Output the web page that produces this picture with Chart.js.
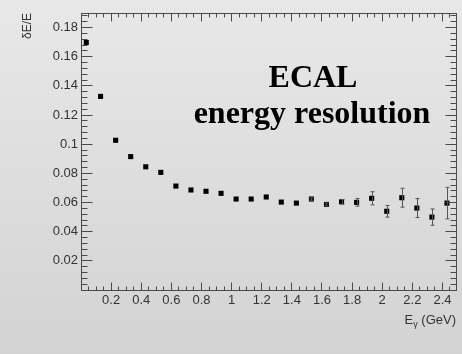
<!DOCTYPE html>
<html>
<head>
<meta charset="utf-8">
<script src="https://cdn.jsdelivr.net/npm/chart.js@4.4.0/dist/chart.umd.min.js"></script>
<style>
  html, body { margin: 0; padding: 0; }
  body { width: 462px; height: 354px; background: linear-gradient(#e8e8e8, #d3d3d3); }
  canvas { display: block; }
</style>
</head>
<body>
<canvas id="res-chart" width="462" height="354"></canvas>
<script>
// Photon energy bins (GeV) and ECAL relative resolution dE/E
const energies = [0.035, 0.13, 0.23, 0.33, 0.43, 0.53, 0.63, 0.73, 0.83, 0.93,
                  1.03, 1.13, 1.23, 1.33, 1.43, 1.53, 1.63, 1.73, 1.83, 1.93,
                  2.03, 2.13, 2.23, 2.33, 2.43];
const resolution = [0.1698, 0.1328, 0.1027, 0.0915, 0.0845, 0.0807, 0.0713, 0.0686, 0.0677, 0.0663,
                    0.0624, 0.0624, 0.0638, 0.0603, 0.0596, 0.0624, 0.0587, 0.0605, 0.0601, 0.0629,
                    0.0540, 0.0633, 0.0562, 0.0500, 0.0596];
const resolutionErr = [0, 0, 0, 0, 0, 0, 0, 0, 0, 0,
                       0, 0, 0, 0, 0, 0.0008, 0.001, 0.0016, 0.0026, 0.0045,
                       0.0040, 0.0065, 0.0065, 0.0056, 0.0108];
const xTickValues = [0.2, 0.4, 0.6, 0.8, 1, 1.2, 1.4, 1.6, 1.8, 2, 2.2, 2.4];
const yTickValues = [0.02, 0.04, 0.06, 0.08, 0.1, 0.12, 0.14, 0.16, 0.18];

const axisColor = '#4a4a4a';
const labelColor = '#333';

// error bars with small end caps
const errorBars = {
    id: 'errorBars',
    afterDatasetsDraw(chart) {
        const { ctx, scales: { x, y } } = chart;
        ctx.save();
        ctx.strokeStyle = '#555';
        ctx.lineWidth = 1;
        energies.forEach((e, i) => {
            const err = resolutionErr[i];
            if (!err) return;
            const px = Math.round(x.getPixelForValue(e)) + 0.5;
            const top = y.getPixelForValue(resolution[i] + err);
            const bot = y.getPixelForValue(resolution[i] - err);
            ctx.beginPath();
            ctx.moveTo(px, top);
            ctx.lineTo(px, bot);
            ctx.moveTo(px - 2, top);
            ctx.lineTo(px + 2, top);
            ctx.moveTo(px - 2, bot);
            ctx.lineTo(px + 2, bot);
            ctx.stroke();
        });
        ctx.restore();
    }
};

// frame with inward major/minor ticks on all four sides, titles and the label
const frame = {
    id: 'frame',
    afterDraw(chart) {
        const { ctx, chartArea: a, scales: { x, y } } = chart;
        const crisp = v => Math.floor(v) + 0.5;
        const L = crisp(a.left), R = crisp(a.right), T = crisp(a.top), B = crisp(a.bottom);
        ctx.save();
        ctx.strokeStyle = axisColor;
        ctx.lineWidth = 1;
        ctx.strokeRect(L, T, R - L, B - T);

        ctx.beginPath();
        for (let k = 1; k * 0.05 < x.max; k++) {
            const px = crisp(x.getPixelForValue(k * 0.05));
            const len = k % 4 === 0 ? 8 : 4;
            ctx.moveTo(px, B); ctx.lineTo(px, B - len);
            ctx.moveTo(px, T); ctx.lineTo(px, T + len);
        }
        for (let k = 1; k * 0.004 < y.max; k++) {
            const py = crisp(y.getPixelForValue(k * 0.004));
            const len = k % 5 === 0 ? 11 : 6;
            ctx.moveTo(L, py); ctx.lineTo(L + len, py);
            ctx.moveTo(R, py); ctx.lineTo(R - len, py);
        }
        ctx.stroke();

        // y title, rotated, flush with the top of the frame
        ctx.fillStyle = labelColor;
        ctx.font = '12px "Liberation Sans"';
        ctx.save();
        ctx.translate(28, a.top);
        ctx.rotate(-Math.PI / 2);
        ctx.textAlign = 'right';
        ctx.textBaseline = 'middle';
        ctx.fillText('\u03b4E/E', 0, 0);
        ctx.restore();

        // x title E_gamma (GeV), right aligned
        const base = 324;
        ctx.textBaseline = 'alphabetic';
        ctx.textAlign = 'left';
        ctx.font = '13px "Liberation Sans"';
        const tail = ' (GeV)';
        const wTail = ctx.measureText(tail).width;
        const wE = ctx.measureText('E').width;
        ctx.font = '9px "Liberation Sans"';
        const wG = ctx.measureText('\u03b3').width;
        let tx = a.right - wTail - wG - wE;
        ctx.font = '13px "Liberation Sans"';
        ctx.fillText('E', tx, base);
        ctx.font = '9px "Liberation Sans"';
        ctx.fillText('\u03b3', tx + wE, base + 3);
        ctx.font = '13px "Liberation Sans"';
        ctx.fillText(tail, tx + wE + wG, base);

        // plot label
        ctx.fillStyle = '#000';
        ctx.textAlign = 'center';
        ctx.font = 'bold 32px "Liberation Serif"';
        ctx.fillText('ECAL', 313, 87);
        ctx.fillText('energy resolution', 312, 123);
        ctx.restore();
    }
};

const tickFont = { family: 'Liberation Sans', size: 13 };

const chart = new Chart(document.getElementById('res-chart').getContext('2d'), {
    type: 'scatter',
    data: {
        datasets: [{
            data: energies.map((e, i) => ({ x: e, y: resolution[i] })),
            pointStyle: 'rect',
            pointRadius: 3.6,
            backgroundColor: '#000',
            borderColor: '#000',
            borderWidth: 0
        }]
    },
    options: {
        responsive: false,
        animation: false,
        devicePixelRatio: 1,
        layout: { padding: { left: 0, top: 13, right: 6, bottom: 0 } },
        plugins: {
            legend: { display: false },
            tooltip: { enabled: false }
        },
        scales: {
            x: {
                type: 'linear',
                min: 0,
                max: 2.49,
                grid: { display: false, drawTicks: false },
                border: { display: false },
                afterBuildTicks: s => { s.ticks = xTickValues.map(v => ({ value: v })); },
                afterFit: s => { s.height = 64; },
                ticks: {
                    padding: 3,
                    color: labelColor,
                    font: tickFont,
                    maxRotation: 0,
                    autoSkip: false,
                    callback: v => String(v)
                }
            },
            y: {
                type: 'linear',
                min: 0,
                max: 0.19,
                grid: { display: false, drawTicks: false },
                border: { display: false },
                afterBuildTicks: s => { s.ticks = yTickValues.map(v => ({ value: v })); },
                afterFit: s => { s.width = 81; },
                ticks: {
                    padding: 3,
                    color: labelColor,
                    font: tickFont,
                    autoSkip: false,
                    callback: v => String(v)
                }
            }
        }
    },
    plugins: [errorBars, frame]
});
</script>
</body>
</html>
